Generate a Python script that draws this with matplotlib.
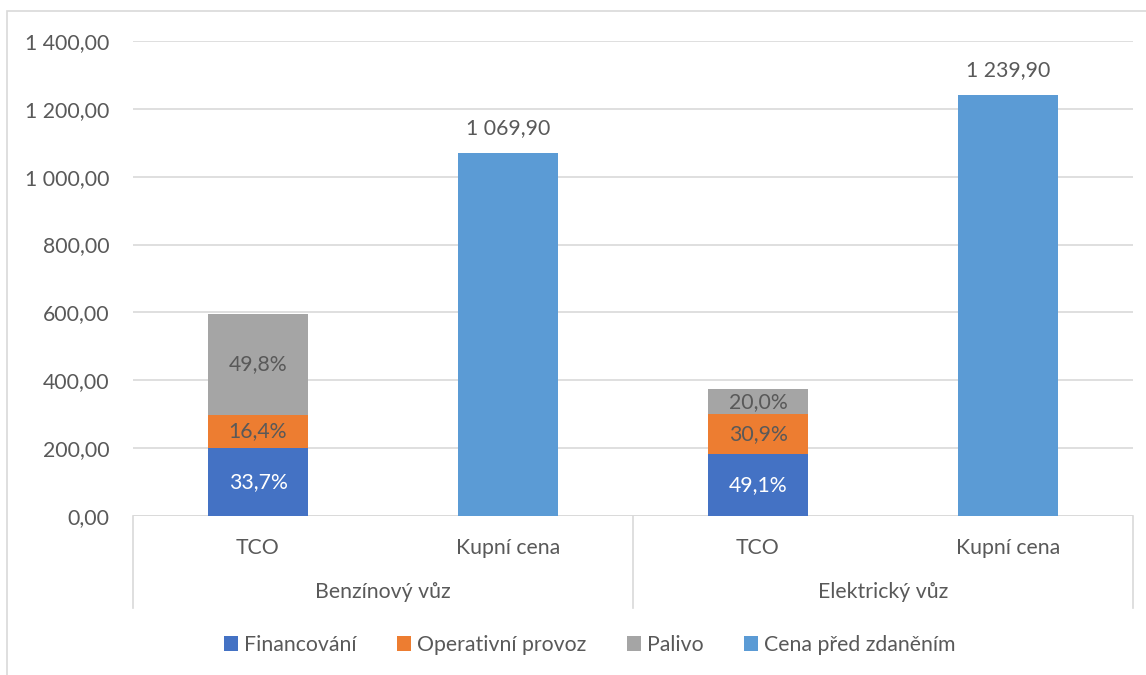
import matplotlib.pyplot as plt
from matplotlib.patches import Rectangle
from matplotlib.ticker import FuncFormatter
import numpy as np

plt.rcParams['font.family'] = ['Lato', 'DejaVu Sans']

# data
skupiny = ['Benzínový vůz', 'Elektrický vůz']
kategorie = ['TCO', 'Kupní cena']
financovani = [201.1, 183.6]
operativni = [98.0, 115.6]
palivo = [296.9, 74.8]
kupni_cena = [1069.9, 1239.9]
serie = ['Financování', 'Operativní provoz', 'Palivo', 'Cena před zdaněním']
barvy = ['#4472C4', '#ED7D31', '#A5A5A5', '#5B9BD5']

sedy_text = '#595959'
mrizka = '#D9D9D9'
fs = 15.3

fig = plt.figure(figsize=(11.46, 6.75), dpi=100)
W, H = 1146, 675
ax = fig.add_axes([133 / W, 1 - 516 / H, 1000 / W, 475 / H])

# ramecek kolem grafu
fig.patches.append(Rectangle((7 / W, -0.1), 1.2, 1 - 11 / H + 0.1, transform=fig.transFigure,
                             fill=False, edgecolor=mrizka, lw=1.2))

x_tco = np.array([0, 2])
x_kup = np.array([1, 3])
sirka = 0.4

fin = np.array(financovani)
op = np.array(operativni)
pal = np.array(palivo)
celkem = fin + op + pal

b1 = ax.bar(x_tco, fin, sirka, color=barvy[0], zorder=3)
b2 = ax.bar(x_tco, op, sirka, bottom=fin, color=barvy[1], zorder=3)
b3 = ax.bar(x_tco, pal, sirka, bottom=fin + op, color=barvy[2], zorder=3)
b4 = ax.bar(x_kup, kupni_cena, sirka, color=barvy[3], zorder=3)

def cz(v, des=2):
    s = f'{v:,.{des}f}'
    return s.replace(',', ' ').replace('.', ',')

for vals, dno, barva in [(fin, np.zeros(2), 'white'), (op, fin, sedy_text), (pal, fin + op, sedy_text)]:
    for i in range(2):
        pct = vals[i] / celkem[i] * 100
        ax.text(x_tco[i], dno[i] + vals[i] / 2, cz(pct, 1) + '%', ha='center', va='center',
                color=barva, fontsize=fs, zorder=4)

for i in range(2):
    ax.text(x_kup[i], kupni_cena[i] + 45, cz(kupni_cena[i]), ha='center', va='bottom',
            color=sedy_text, fontsize=fs)

ax.set_ylim(0, 1400)
ax.set_xlim(-0.5, 3.5)
ax.set_yticks(np.arange(0, 1401, 200))
ax.yaxis.set_major_formatter(FuncFormatter(lambda v, p: cz(v)))
ax.tick_params(axis='y', length=0, pad=17, labelsize=fs, labelcolor=sedy_text)
ax.grid(axis='y', color=mrizka, lw=1.2, zorder=0)
ax.set_xticks([])
for s in ax.spines.values():
    s.set_visible(False)
ax.axhline(0, color=mrizka, lw=1.2, zorder=2)

# kategoriova osa
trans = ax.get_xaxis_transform()
for xs in [-0.5, 1.5, 3.5]:
    ax.plot([xs, xs], [0, -92 / 475], color=mrizka, lw=1.2, transform=trans, clip_on=False)
for j, g in enumerate(skupiny):
    for k, c in enumerate(kategorie):
        ax.text(2 * j + k, -32 / 475, c, transform=trans, ha='center', va='center',
                color=sedy_text, fontsize=fs)
    ax.text(2 * j + 0.5, -76 / 475, g, transform=trans, ha='center', va='center',
            color=sedy_text, fontsize=fs)

fig.legend([b1, b2, b3, b4], serie, loc='center', bbox_to_anchor=(590 / W, 1 - 645 / H),
           ncol=4, frameon=False, fontsize=fs, labelcolor=sedy_text,
           handlelength=0.65, handleheight=0.65, handletextpad=0.3, columnspacing=1.9)

fig.savefig('out.png', dpi=100)
